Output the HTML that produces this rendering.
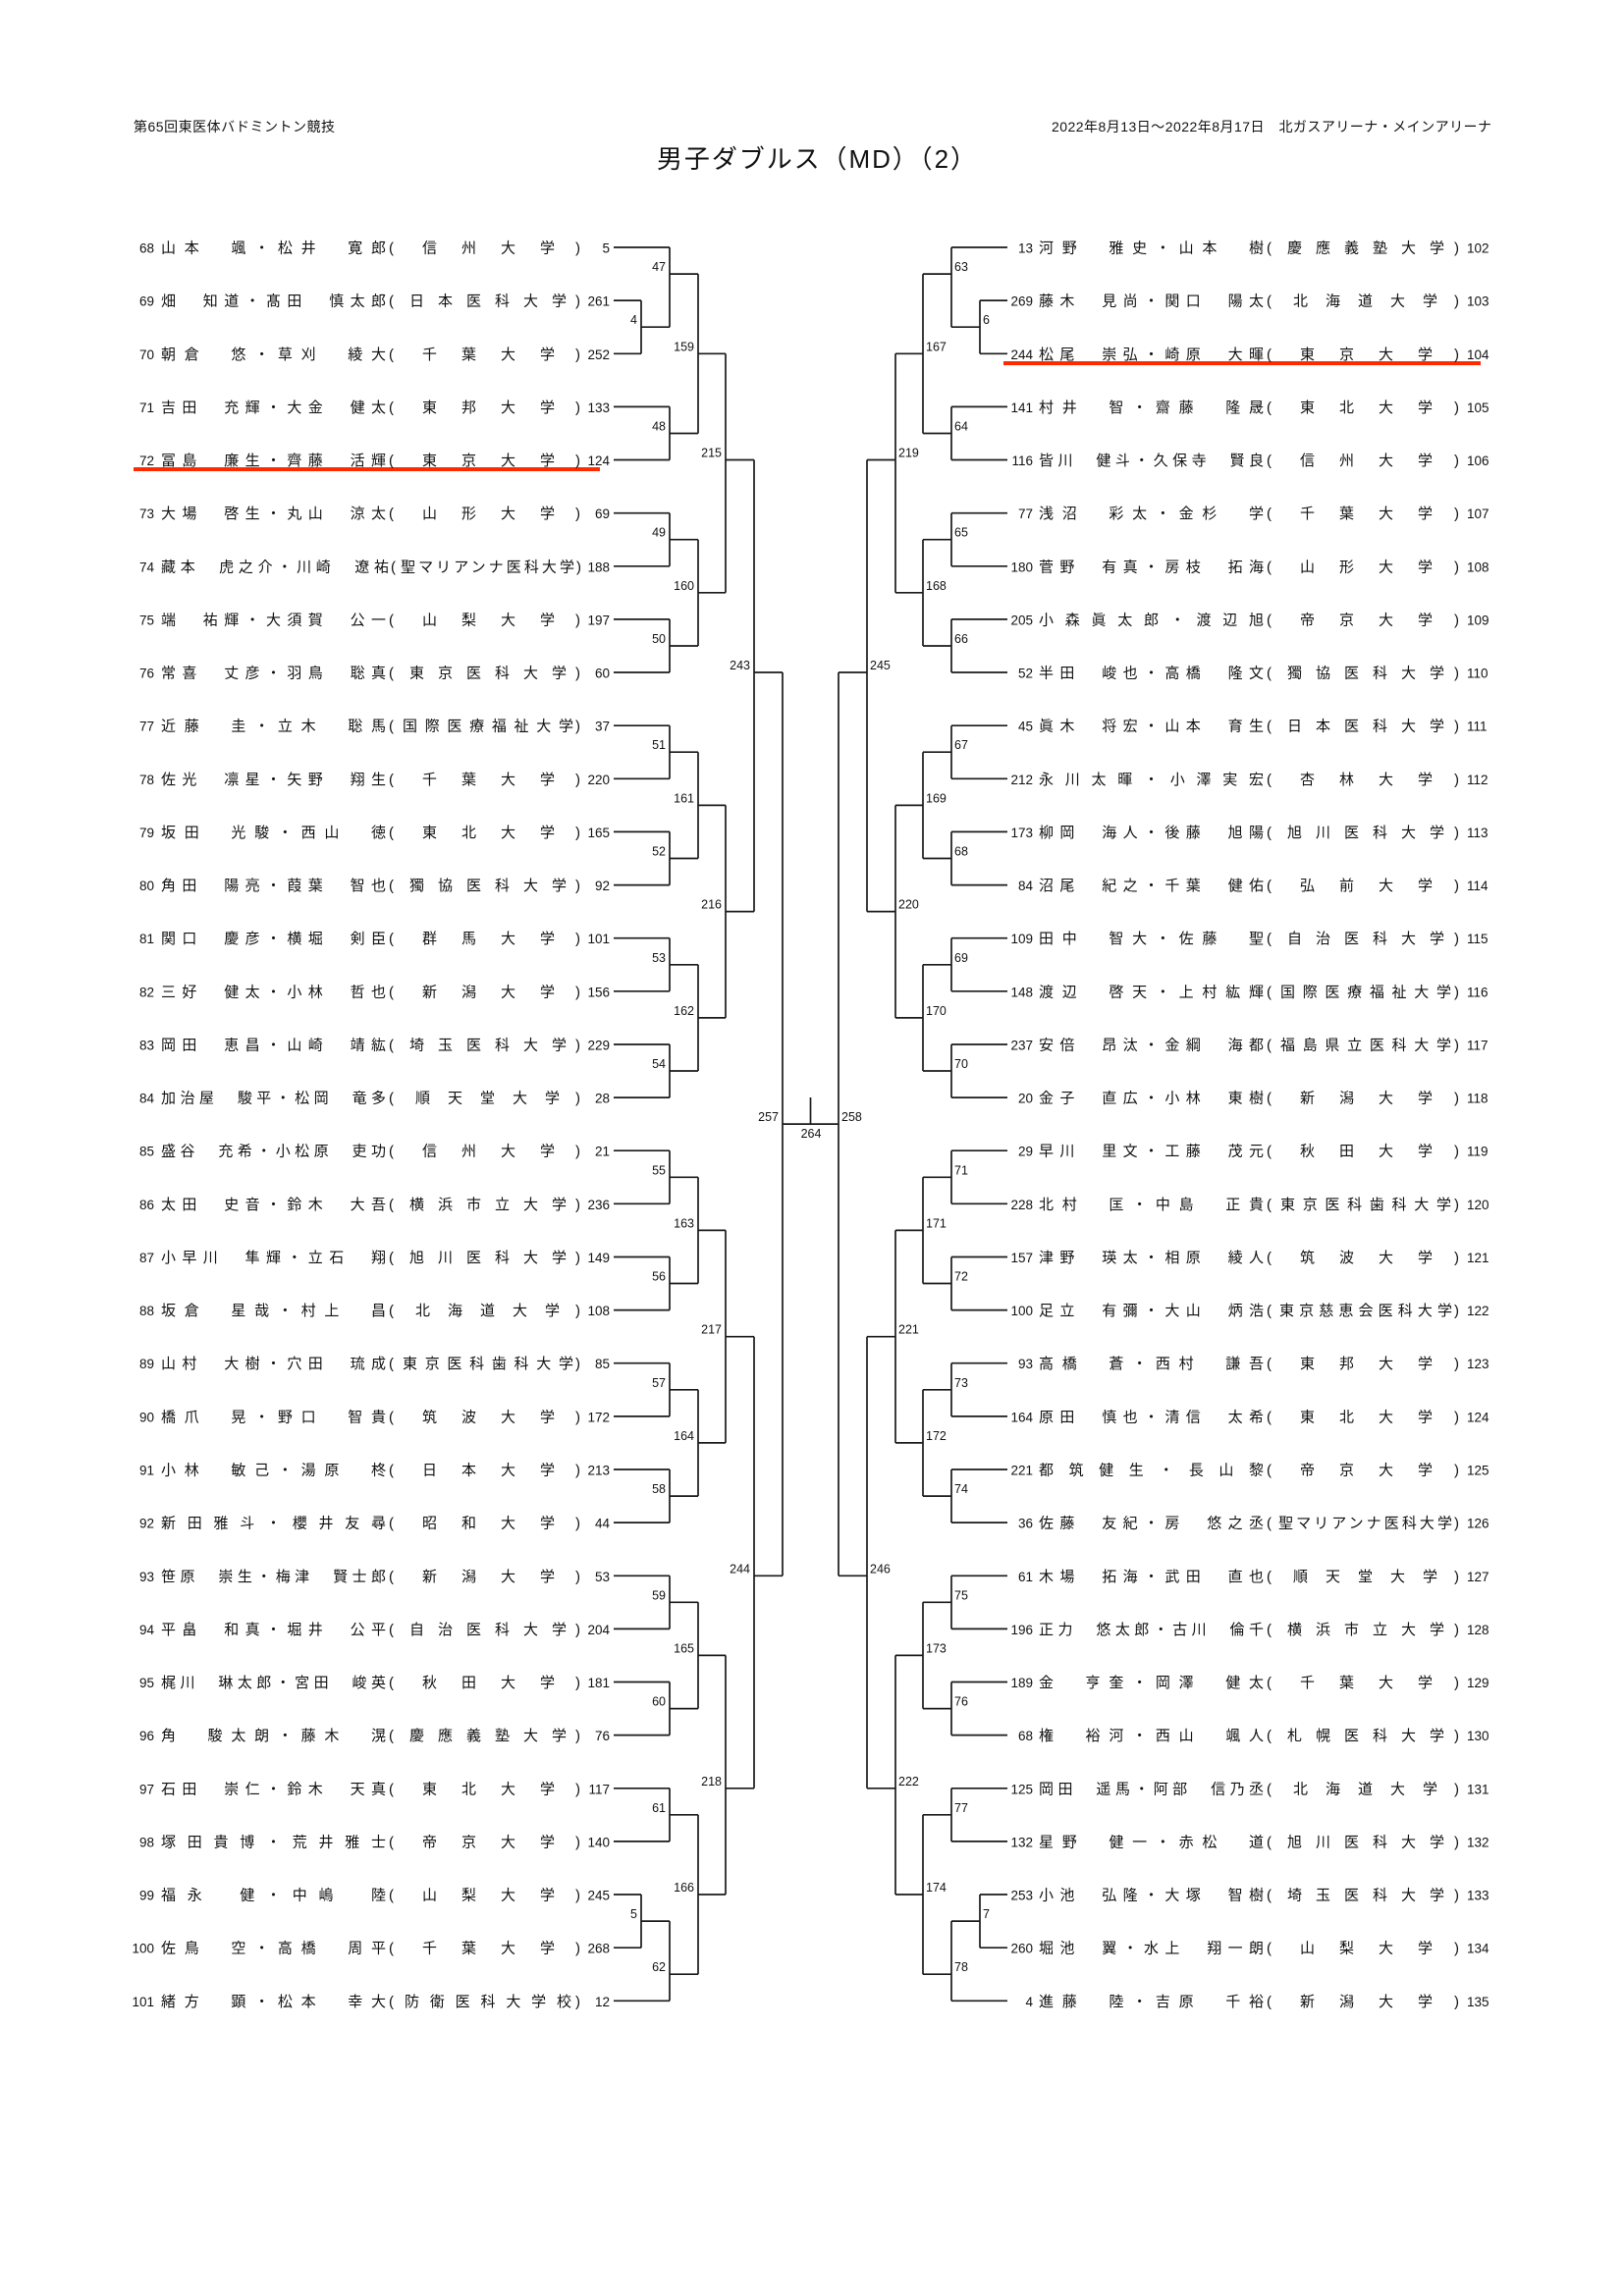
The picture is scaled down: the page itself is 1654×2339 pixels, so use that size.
<!DOCTYPE html>
<html><head><meta charset="utf-8">
<style>
html,body{margin:0;padding:0;background:#fff;}
svg{display:block;}
text{font-family:"Liberation Sans","Noto Sans CJK JP",sans-serif;fill:#111;}
.n{font-size:13.5px;}
.e{text-anchor:end;}
.s{font-size:15px;}
.l{font-size:12.5px;}
.h{font-size:14px;}
.t{font-size:26px;}
</style></head>
<body>
<svg width="1654" height="2339" viewBox="0 0 1654 2339" xmlns="http://www.w3.org/2000/svg">
<rect width="1654" height="2339" fill="#fff"/>
<text class="h" x="136" y="134" textLength="205">第65回東医体バドミントン競技</text>
<text class="h" x="1071" y="134" textLength="448">2022年8月13日～2022年8月17日　北ガスアリーナ・メインアリーナ</text>
<text class="t" x="669" y="171" textLength="325">男子ダブルス（MD）（2）</text>

<rect x="136" y="476" width="475" height="4" fill="#ff2a00"/>
<rect x="1022" y="368" width="486" height="4" fill="#ff2a00"/>

<g id="br" fill="none" stroke="#1a1a1a" stroke-width="1.7">
<path d="M625 252H682 M625 306.1H653 M625 360.3H653 M625 414.4H682 M625 468.5H682 M625 522.7H682 M625 576.8H682 M625 630.9H682 M625 685H682 M625 739.2H682 M625 793.3H682 M625 847.4H682 M625 901.6H682 M625 955.7H682 M625 1009.8H682 M625 1064H682 M625 1118.1H682 M625 1172.2H682 M625 1226.3H682 M625 1280.5H682 M625 1334.6H682 M625 1388.7H682 M625 1442.9H682 M625 1497H682 M625 1551.1H682 M625 1605.3H682 M625 1659.4H682 M625 1713.5H682 M625 1767.6H682 M625 1821.8H682 M625 1875.9H682 M625 1930H653 M625 1984.2H653 M625 2038.3H682
M653 306.1V360.3 M653 333.2H682
M682 252V333.2 M682 279.1H711
M682 414.4V468.5 M682 441.5H711
M682 522.7V576.8 M682 549.7H711
M682 630.9V685 M682 658H711
M682 739.2V793.3 M682 766.2H711
M682 847.4V901.6 M682 874.5H711
M682 955.7V1009.8 M682 982.8H711
M682 1064V1118.1 M682 1091H711
M682 1172.2V1226.3 M682 1199.3H711
M682 1280.5V1334.6 M682 1307.5H711
M682 1388.7V1442.9 M682 1415.8H711
M682 1497V1551.1 M682 1524.1H711
M682 1605.3V1659.4 M682 1632.3H711
M682 1713.5V1767.6 M682 1740.6H711
M682 1821.8V1875.9 M682 1848.8H711
M653 1930V1984.2 M653 1957.1H682
M682 1957.1V2038.3 M682 2011.2H711
M711 279.1V441.5 M711 360.3H739
M711 549.7V658 M711 603.8H739
M711 766.2V874.5 M711 820.4H739
M711 982.8V1091 M711 1036.9H739
M711 1199.3V1307.5 M711 1253.4H739
M711 1415.8V1524.1 M711 1469.9H739
M711 1632.3V1740.6 M711 1686.4H739
M711 1848.8V2011.2 M711 1930H739
M739 360.3V603.8 M739 468.5H768
M739 820.4V1036.9 M739 928.6H768
M739 1253.4V1469.9 M739 1361.7H768
M739 1686.4V1930 M739 1821.8H768
M768 468.5V928.6 M768 685H797
M768 1361.7V1821.8 M768 1605.3H797
M797 685V1605.3 M797 1145.1H826"/>
</g>
<g fill="none" stroke="#1a1a1a" stroke-width="1.7" transform="translate(1651,0) scale(-1,1)">
<path d="M625 252H682 M625 306.1H653 M625 360.3H653 M625 414.4H682 M625 468.5H682 M625 522.7H682 M625 576.8H682 M625 630.9H682 M625 685H682 M625 739.2H682 M625 793.3H682 M625 847.4H682 M625 901.6H682 M625 955.7H682 M625 1009.8H682 M625 1064H682 M625 1118.1H682 M625 1172.2H682 M625 1226.3H682 M625 1280.5H682 M625 1334.6H682 M625 1388.7H682 M625 1442.9H682 M625 1497H682 M625 1551.1H682 M625 1605.3H682 M625 1659.4H682 M625 1713.5H682 M625 1767.6H682 M625 1821.8H682 M625 1875.9H682 M625 1930H653 M625 1984.2H653 M625 2038.3H682
M653 306.1V360.3 M653 333.2H682
M682 252V333.2 M682 279.1H711
M682 414.4V468.5 M682 441.5H711
M682 522.7V576.8 M682 549.7H711
M682 630.9V685 M682 658H711
M682 739.2V793.3 M682 766.2H711
M682 847.4V901.6 M682 874.5H711
M682 955.7V1009.8 M682 982.8H711
M682 1064V1118.1 M682 1091H711
M682 1172.2V1226.3 M682 1199.3H711
M682 1280.5V1334.6 M682 1307.5H711
M682 1388.7V1442.9 M682 1415.8H711
M682 1497V1551.1 M682 1524.1H711
M682 1605.3V1659.4 M682 1632.3H711
M682 1713.5V1767.6 M682 1740.6H711
M682 1821.8V1875.9 M682 1848.8H711
M653 1930V1984.2 M653 1957.1H682
M682 1957.1V2038.3 M682 2011.2H711
M711 279.1V441.5 M711 360.3H739
M711 549.7V658 M711 603.8H739
M711 766.2V874.5 M711 820.4H739
M711 982.8V1091 M711 1036.9H739
M711 1199.3V1307.5 M711 1253.4H739
M711 1415.8V1524.1 M711 1469.9H739
M711 1632.3V1740.6 M711 1686.4H739
M711 1848.8V2011.2 M711 1930H739
M739 360.3V603.8 M739 468.5H768
M739 820.4V1036.9 M739 928.6H768
M739 1253.4V1469.9 M739 1361.7H768
M739 1686.4V1930 M739 1821.8H768
M768 468.5V928.6 M768 685H797
M768 1361.7V1821.8 M768 1605.3H797
M797 685V1605.3 M797 1145.1H826"/>
</g>
<path d="M825.5 1118V1145" stroke="#1a1a1a" stroke-width="1.7"/>

<!-- match labels left -->
<g class="l">
<text class="l e" x="678" y="276">47</text>
<text class="l e" x="678" y="438.5">48</text>
<text class="l e" x="678" y="546.7">49</text>
<text class="l e" x="678" y="655">50</text>
<text class="l e" x="678" y="763.2">51</text>
<text class="l e" x="678" y="871.5">52</text>
<text class="l e" x="678" y="979.8">53</text>
<text class="l e" x="678" y="1088">54</text>
<text class="l e" x="678" y="1196.3">55</text>
<text class="l e" x="678" y="1304.5">56</text>
<text class="l e" x="678" y="1412.8">57</text>
<text class="l e" x="678" y="1521.1">58</text>
<text class="l e" x="678" y="1629.3">59</text>
<text class="l e" x="678" y="1737.6">60</text>
<text class="l e" x="678" y="1845.8">61</text>
<text class="l e" x="678" y="2008.2">62</text>
<text class="l e" x="649" y="330.2">4</text>
<text class="l e" x="649" y="1954.1">5</text>
<text class="l e" x="707" y="357.3">159</text>
<text class="l e" x="707" y="600.8">160</text>
<text class="l e" x="707" y="817.4">161</text>
<text class="l e" x="707" y="1033.9">162</text>
<text class="l e" x="707" y="1250.4">163</text>
<text class="l e" x="707" y="1466.9">164</text>
<text class="l e" x="707" y="1683.4">165</text>
<text class="l e" x="707" y="1927">166</text>
<text class="l e" x="735" y="465.5">215</text>
<text class="l e" x="735" y="925.6">216</text>
<text class="l e" x="735" y="1358.7">217</text>
<text class="l e" x="735" y="1818.8">218</text>
<text class="l e" x="764" y="682">243</text>
<text class="l e" x="764" y="1602.3">244</text>
<text class="l e" x="793" y="1142">257</text>
<text class="l" x="857" y="1142">258</text>
<text class="l" x="826" y="1159" text-anchor="middle">264</text>
<!-- right -->
<text class="l" x="972" y="276">63</text>
<text class="l" x="972" y="438.5">64</text>
<text class="l" x="972" y="546.7">65</text>
<text class="l" x="972" y="655">66</text>
<text class="l" x="972" y="763.2">67</text>
<text class="l" x="972" y="871.5">68</text>
<text class="l" x="972" y="979.8">69</text>
<text class="l" x="972" y="1088">70</text>
<text class="l" x="972" y="1196.3">71</text>
<text class="l" x="972" y="1304.5">72</text>
<text class="l" x="972" y="1412.8">73</text>
<text class="l" x="972" y="1521.1">74</text>
<text class="l" x="972" y="1629.3">75</text>
<text class="l" x="972" y="1737.6">76</text>
<text class="l" x="972" y="1845.8">77</text>
<text class="l" x="972" y="2008.2">78</text>
<text class="l" x="1001" y="330.2">6</text>
<text class="l" x="1001" y="1954.1">7</text>
<text class="l" x="943" y="357.3">167</text>
<text class="l" x="943" y="600.8">168</text>
<text class="l" x="943" y="817.4">169</text>
<text class="l" x="943" y="1033.9">170</text>
<text class="l" x="943" y="1250.4">171</text>
<text class="l" x="943" y="1466.9">172</text>
<text class="l" x="943" y="1683.4">173</text>
<text class="l" x="943" y="1927">174</text>
<text class="l" x="915" y="465.5">219</text>
<text class="l" x="915" y="925.6">220</text>
<text class="l" x="915" y="1358.7">221</text>
<text class="l" x="915" y="1818.8">222</text>
<text class="l" x="886" y="682">245</text>
<text class="l" x="886" y="1602.3">246</text>
</g>

<!-- LEFT ROWS -->
<g transform="translate(0,257.5)"><text class="n e" x="157">68</text><text class="s" x="164" textLength="229">山本　颯・松井　寛郎</text><text class="s" x="396">(</text><text class="s" x="430" textLength="135">信州大学</text><text class="s" x="586">)</text><text class="n e" x="621">5</text></g>
<g transform="translate(0,311.6)"><text class="n e" x="157">69</text><text class="s" x="164" textLength="229">畑　知道・髙田　慎太郎</text><text class="s" x="396">(</text><text class="s" x="417" textLength="160">日本医科大学</text><text class="s" x="586">)</text><text class="n e" x="621">261</text></g>
<g transform="translate(0,365.8)"><text class="n e" x="157">70</text><text class="s" x="164" textLength="229">朝倉　悠・草刈　綾大</text><text class="s" x="396">(</text><text class="s" x="430" textLength="135">千葉大学</text><text class="s" x="586">)</text><text class="n e" x="621">252</text></g>
<g transform="translate(0,419.9)"><text class="n e" x="157">71</text><text class="s" x="164" textLength="229">吉田　充輝・大金　健太</text><text class="s" x="396">(</text><text class="s" x="430" textLength="135">東邦大学</text><text class="s" x="586">)</text><text class="n e" x="621">133</text></g>
<g transform="translate(0,474)"><text class="n e" x="157">72</text><text class="s" x="164" textLength="229">冨島　廉生・齊藤　活輝</text><text class="s" x="396">(</text><text class="s" x="430" textLength="135">東京大学</text><text class="s" x="586">)</text><text class="n e" x="621">124</text></g>
<g transform="translate(0,528.2)"><text class="n e" x="157">73</text><text class="s" x="164" textLength="229">大場　啓生・丸山　涼太</text><text class="s" x="396">(</text><text class="s" x="430" textLength="135">山形大学</text><text class="s" x="586">)</text><text class="n e" x="621">69</text></g>
<g transform="translate(0,582.3)"><text class="n e" x="157">74</text><text class="s" x="164" textLength="232">藏本　虎之介・川崎　遼祐</text><text class="s" x="398">(</text><text class="s" x="408" textLength="177">聖マリアンナ医科大学</text><text class="s" x="587">)</text><text class="n e" x="621">188</text></g>
<g transform="translate(0,636.4)"><text class="n e" x="157">75</text><text class="s" x="164" textLength="229">端　祐輝・大須賀　公一</text><text class="s" x="396">(</text><text class="s" x="430" textLength="135">山梨大学</text><text class="s" x="586">)</text><text class="n e" x="621">197</text></g>
<g transform="translate(0,690.5)"><text class="n e" x="157">76</text><text class="s" x="164" textLength="229">常喜　丈彦・羽鳥　聡真</text><text class="s" x="396">(</text><text class="s" x="417" textLength="160">東京医科大学</text><text class="s" x="586">)</text><text class="n e" x="621">60</text></g>
<g transform="translate(0,744.7)"><text class="n e" x="157">77</text><text class="s" x="164" textLength="229">近藤　圭・立木　聡馬</text><text class="s" x="396">(</text><text class="s" x="410" textLength="174">国際医療福祉大学</text><text class="s" x="586">)</text><text class="n e" x="621">37</text></g>
<g transform="translate(0,798.8)"><text class="n e" x="157">78</text><text class="s" x="164" textLength="229">佐光　凛星・矢野　翔生</text><text class="s" x="396">(</text><text class="s" x="430" textLength="135">千葉大学</text><text class="s" x="586">)</text><text class="n e" x="621">220</text></g>
<g transform="translate(0,852.9)"><text class="n e" x="157">79</text><text class="s" x="164" textLength="229">坂田　光駿・西山　徳</text><text class="s" x="396">(</text><text class="s" x="430" textLength="135">東北大学</text><text class="s" x="586">)</text><text class="n e" x="621">165</text></g>
<g transform="translate(0,907.1)"><text class="n e" x="157">80</text><text class="s" x="164" textLength="229">角田　陽亮・葭葉　智也</text><text class="s" x="396">(</text><text class="s" x="417" textLength="160">獨協医科大学</text><text class="s" x="586">)</text><text class="n e" x="621">92</text></g>
<g transform="translate(0,961.2)"><text class="n e" x="157">81</text><text class="s" x="164" textLength="229">関口　慶彦・横堀　剣臣</text><text class="s" x="396">(</text><text class="s" x="430" textLength="135">群馬大学</text><text class="s" x="586">)</text><text class="n e" x="621">101</text></g>
<g transform="translate(0,1015.3)"><text class="n e" x="157">82</text><text class="s" x="164" textLength="229">三好　健太・小林　哲也</text><text class="s" x="396">(</text><text class="s" x="430" textLength="135">新潟大学</text><text class="s" x="586">)</text><text class="n e" x="621">156</text></g>
<g transform="translate(0,1069.5)"><text class="n e" x="157">83</text><text class="s" x="164" textLength="229">岡田　恵昌・山崎　靖紘</text><text class="s" x="396">(</text><text class="s" x="417" textLength="160">埼玉医科大学</text><text class="s" x="586">)</text><text class="n e" x="621">229</text></g>
<g transform="translate(0,1123.6)"><text class="n e" x="157">84</text><text class="s" x="164" textLength="229">加治屋　駿平・松岡　竜多</text><text class="s" x="396">(</text><text class="s" x="423" textLength="147">順天堂大学</text><text class="s" x="586">)</text><text class="n e" x="621">28</text></g>
<g transform="translate(0,1177.7)"><text class="n e" x="157">85</text><text class="s" x="164" textLength="229">盛谷　充希・小松原　吏功</text><text class="s" x="396">(</text><text class="s" x="430" textLength="135">信州大学</text><text class="s" x="586">)</text><text class="n e" x="621">21</text></g>
<g transform="translate(0,1231.8)"><text class="n e" x="157">86</text><text class="s" x="164" textLength="229">太田　史音・鈴木　大吾</text><text class="s" x="396">(</text><text class="s" x="417" textLength="160">横浜市立大学</text><text class="s" x="586">)</text><text class="n e" x="621">236</text></g>
<g transform="translate(0,1286)"><text class="n e" x="157">87</text><text class="s" x="164" textLength="229">小早川　隼輝・立石　翔</text><text class="s" x="396">(</text><text class="s" x="417" textLength="160">旭川医科大学</text><text class="s" x="586">)</text><text class="n e" x="621">149</text></g>
<g transform="translate(0,1340.1)"><text class="n e" x="157">88</text><text class="s" x="164" textLength="229">坂倉　星哉・村上　昌</text><text class="s" x="396">(</text><text class="s" x="423" textLength="147">北海道大学</text><text class="s" x="586">)</text><text class="n e" x="621">108</text></g>
<g transform="translate(0,1394.2)"><text class="n e" x="157">89</text><text class="s" x="164" textLength="229">山村　大樹・穴田　琉成</text><text class="s" x="396">(</text><text class="s" x="410" textLength="174">東京医科歯科大学</text><text class="s" x="586">)</text><text class="n e" x="621">85</text></g>
<g transform="translate(0,1448.4)"><text class="n e" x="157">90</text><text class="s" x="164" textLength="229">橋爪　晃・野口　智貴</text><text class="s" x="396">(</text><text class="s" x="430" textLength="135">筑波大学</text><text class="s" x="586">)</text><text class="n e" x="621">172</text></g>
<g transform="translate(0,1502.5)"><text class="n e" x="157">91</text><text class="s" x="164" textLength="229">小林　敏己・湯原　柊</text><text class="s" x="396">(</text><text class="s" x="430" textLength="135">日本大学</text><text class="s" x="586">)</text><text class="n e" x="621">213</text></g>
<g transform="translate(0,1556.6)"><text class="n e" x="157">92</text><text class="s" x="164" textLength="229">新田雅斗・櫻井友尋</text><text class="s" x="396">(</text><text class="s" x="430" textLength="135">昭和大学</text><text class="s" x="586">)</text><text class="n e" x="621">44</text></g>
<g transform="translate(0,1610.8)"><text class="n e" x="157">93</text><text class="s" x="164" textLength="229">笹原　崇生・梅津　賢士郎</text><text class="s" x="396">(</text><text class="s" x="430" textLength="135">新潟大学</text><text class="s" x="586">)</text><text class="n e" x="621">53</text></g>
<g transform="translate(0,1664.9)"><text class="n e" x="157">94</text><text class="s" x="164" textLength="229">平畠　和真・堀井　公平</text><text class="s" x="396">(</text><text class="s" x="417" textLength="160">自治医科大学</text><text class="s" x="586">)</text><text class="n e" x="621">204</text></g>
<g transform="translate(0,1719)"><text class="n e" x="157">95</text><text class="s" x="164" textLength="229">梶川　琳太郎・宮田　峻英</text><text class="s" x="396">(</text><text class="s" x="430" textLength="135">秋田大学</text><text class="s" x="586">)</text><text class="n e" x="621">181</text></g>
<g transform="translate(0,1773.1)"><text class="n e" x="157">96</text><text class="s" x="164" textLength="229">角　駿太朗・藤木　滉</text><text class="s" x="396">(</text><text class="s" x="417" textLength="160">慶應義塾大学</text><text class="s" x="586">)</text><text class="n e" x="621">76</text></g>
<g transform="translate(0,1827.3)"><text class="n e" x="157">97</text><text class="s" x="164" textLength="229">石田　崇仁・鈴木　天真</text><text class="s" x="396">(</text><text class="s" x="430" textLength="135">東北大学</text><text class="s" x="586">)</text><text class="n e" x="621">117</text></g>
<g transform="translate(0,1881.4)"><text class="n e" x="157">98</text><text class="s" x="164" textLength="229">塚田貴博・荒井雅士</text><text class="s" x="396">(</text><text class="s" x="430" textLength="135">帝京大学</text><text class="s" x="586">)</text><text class="n e" x="621">140</text></g>
<g transform="translate(0,1935.5)"><text class="n e" x="157">99</text><text class="s" x="164" textLength="229">福永　健・中嶋　陸</text><text class="s" x="396">(</text><text class="s" x="430" textLength="135">山梨大学</text><text class="s" x="586">)</text><text class="n e" x="621">245</text></g>
<g transform="translate(0,1989.7)"><text class="n e" x="157">100</text><text class="s" x="164" textLength="229">佐鳥　空・高橋　周平</text><text class="s" x="396">(</text><text class="s" x="430" textLength="135">千葉大学</text><text class="s" x="586">)</text><text class="n e" x="621">268</text></g>
<g transform="translate(0,2043.8)"><text class="n e" x="157">101</text><text class="s" x="164" textLength="229">緒方　顕・松本　幸大</text><text class="s" x="396">(</text><text class="s" x="412" textLength="170">防衛医科大学校</text><text class="s" x="586">)</text><text class="n e" x="621">12</text></g>

<!-- RIGHT ROWS -->
<g transform="translate(0,257.5)"><text class="n e" x="1052">13</text><text class="s" x="1058" textLength="229">河野　雅史・山本　樹</text><text class="s" x="1290">(</text><text class="s" x="1311" textLength="160">慶應義塾大学</text><text class="s" x="1481">)</text><text class="n" x="1494">102</text></g>
<g transform="translate(0,311.6)"><text class="n e" x="1052">269</text><text class="s" x="1058" textLength="229">藤木　見尚・関口　陽太</text><text class="s" x="1290">(</text><text class="s" x="1317" textLength="147">北海道大学</text><text class="s" x="1481">)</text><text class="n" x="1494">103</text></g>
<g transform="translate(0,365.8)"><text class="n e" x="1052">244</text><text class="s" x="1058" textLength="229">松尾　崇弘・崎原　大暉</text><text class="s" x="1290">(</text><text class="s" x="1324" textLength="135">東京大学</text><text class="s" x="1481">)</text><text class="n" x="1494">104</text></g>
<g transform="translate(0,419.9)"><text class="n e" x="1052">141</text><text class="s" x="1058" textLength="229">村井　智・齋藤　隆晟</text><text class="s" x="1290">(</text><text class="s" x="1324" textLength="135">東北大学</text><text class="s" x="1481">)</text><text class="n" x="1494">105</text></g>
<g transform="translate(0,474)"><text class="n e" x="1052">116</text><text class="s" x="1058" textLength="229">皆川　健斗・久保寺　賢良</text><text class="s" x="1290">(</text><text class="s" x="1324" textLength="135">信州大学</text><text class="s" x="1481">)</text><text class="n" x="1494">106</text></g>
<g transform="translate(0,528.2)"><text class="n e" x="1052">77</text><text class="s" x="1058" textLength="229">浅沼　彩太・金杉　学</text><text class="s" x="1290">(</text><text class="s" x="1324" textLength="135">千葉大学</text><text class="s" x="1481">)</text><text class="n" x="1494">107</text></g>
<g transform="translate(0,582.3)"><text class="n e" x="1052">180</text><text class="s" x="1058" textLength="229">菅野　有真・房枝　拓海</text><text class="s" x="1290">(</text><text class="s" x="1324" textLength="135">山形大学</text><text class="s" x="1481">)</text><text class="n" x="1494">108</text></g>
<g transform="translate(0,636.4)"><text class="n e" x="1052">205</text><text class="s" x="1058" textLength="229">小森眞太郎・渡辺旭</text><text class="s" x="1290">(</text><text class="s" x="1324" textLength="135">帝京大学</text><text class="s" x="1481">)</text><text class="n" x="1494">109</text></g>
<g transform="translate(0,690.5)"><text class="n e" x="1052">52</text><text class="s" x="1058" textLength="229">半田　峻也・高橋　隆文</text><text class="s" x="1290">(</text><text class="s" x="1311" textLength="160">獨協医科大学</text><text class="s" x="1481">)</text><text class="n" x="1494">110</text></g>
<g transform="translate(0,744.7)"><text class="n e" x="1052">45</text><text class="s" x="1058" textLength="229">眞木　将宏・山本　育生</text><text class="s" x="1290">(</text><text class="s" x="1311" textLength="160">日本医科大学</text><text class="s" x="1481">)</text><text class="n" x="1494">111</text></g>
<g transform="translate(0,798.8)"><text class="n e" x="1052">212</text><text class="s" x="1058" textLength="229">永川太暉・小澤実宏</text><text class="s" x="1290">(</text><text class="s" x="1324" textLength="135">杏林大学</text><text class="s" x="1481">)</text><text class="n" x="1494">112</text></g>
<g transform="translate(0,852.9)"><text class="n e" x="1052">173</text><text class="s" x="1058" textLength="229">柳岡　海人・後藤　旭陽</text><text class="s" x="1290">(</text><text class="s" x="1311" textLength="160">旭川医科大学</text><text class="s" x="1481">)</text><text class="n" x="1494">113</text></g>
<g transform="translate(0,907.1)"><text class="n e" x="1052">84</text><text class="s" x="1058" textLength="229">沼尾　紀之・千葉　健佑</text><text class="s" x="1290">(</text><text class="s" x="1324" textLength="135">弘前大学</text><text class="s" x="1481">)</text><text class="n" x="1494">114</text></g>
<g transform="translate(0,961.2)"><text class="n e" x="1052">109</text><text class="s" x="1058" textLength="229">田中　智大・佐藤　聖</text><text class="s" x="1290">(</text><text class="s" x="1311" textLength="160">自治医科大学</text><text class="s" x="1481">)</text><text class="n" x="1494">115</text></g>
<g transform="translate(0,1015.3)"><text class="n e" x="1052">148</text><text class="s" x="1058" textLength="229">渡辺　啓天・上村紘輝</text><text class="s" x="1290">(</text><text class="s" x="1304" textLength="174">国際医療福祉大学</text><text class="s" x="1481">)</text><text class="n" x="1494">116</text></g>
<g transform="translate(0,1069.5)"><text class="n e" x="1052">237</text><text class="s" x="1058" textLength="229">安倍　昂汰・金綱　海都</text><text class="s" x="1290">(</text><text class="s" x="1304" textLength="174">福島県立医科大学</text><text class="s" x="1481">)</text><text class="n" x="1494">117</text></g>
<g transform="translate(0,1123.6)"><text class="n e" x="1052">20</text><text class="s" x="1058" textLength="229">金子　直広・小林　東樹</text><text class="s" x="1290">(</text><text class="s" x="1324" textLength="135">新潟大学</text><text class="s" x="1481">)</text><text class="n" x="1494">118</text></g>
<g transform="translate(0,1177.7)"><text class="n e" x="1052">29</text><text class="s" x="1058" textLength="229">早川　里文・工藤　茂元</text><text class="s" x="1290">(</text><text class="s" x="1324" textLength="135">秋田大学</text><text class="s" x="1481">)</text><text class="n" x="1494">119</text></g>
<g transform="translate(0,1231.8)"><text class="n e" x="1052">228</text><text class="s" x="1058" textLength="229">北村　匡・中島　正貴</text><text class="s" x="1290">(</text><text class="s" x="1304" textLength="174">東京医科歯科大学</text><text class="s" x="1481">)</text><text class="n" x="1494">120</text></g>
<g transform="translate(0,1286)"><text class="n e" x="1052">157</text><text class="s" x="1058" textLength="229">津野　瑛太・相原　綾人</text><text class="s" x="1290">(</text><text class="s" x="1324" textLength="135">筑波大学</text><text class="s" x="1481">)</text><text class="n" x="1494">121</text></g>
<g transform="translate(0,1340.1)"><text class="n e" x="1052">100</text><text class="s" x="1058" textLength="229">足立　有彌・大山　炳浩</text><text class="s" x="1290">(</text><text class="s" x="1303" textLength="176">東京慈恵会医科大学</text><text class="s" x="1481">)</text><text class="n" x="1494">122</text></g>
<g transform="translate(0,1394.2)"><text class="n e" x="1052">93</text><text class="s" x="1058" textLength="229">高橋　蒼・西村　謙吾</text><text class="s" x="1290">(</text><text class="s" x="1324" textLength="135">東邦大学</text><text class="s" x="1481">)</text><text class="n" x="1494">123</text></g>
<g transform="translate(0,1448.4)"><text class="n e" x="1052">164</text><text class="s" x="1058" textLength="229">原田　慎也・清信　太希</text><text class="s" x="1290">(</text><text class="s" x="1324" textLength="135">東北大学</text><text class="s" x="1481">)</text><text class="n" x="1494">124</text></g>
<g transform="translate(0,1502.5)"><text class="n e" x="1052">221</text><text class="s" x="1058" textLength="229">都筑健生・長山黎</text><text class="s" x="1290">(</text><text class="s" x="1324" textLength="135">帝京大学</text><text class="s" x="1481">)</text><text class="n" x="1494">125</text></g>
<g transform="translate(0,1556.6)"><text class="n e" x="1052">36</text><text class="s" x="1058" textLength="229">佐藤　友紀・房　悠之丞</text><text class="s" x="1290">(</text><text class="s" x="1302" textLength="177">聖マリアンナ医科大学</text><text class="s" x="1481">)</text><text class="n" x="1494">126</text></g>
<g transform="translate(0,1610.8)"><text class="n e" x="1052">61</text><text class="s" x="1058" textLength="229">木場　拓海・武田　直也</text><text class="s" x="1290">(</text><text class="s" x="1317" textLength="147">順天堂大学</text><text class="s" x="1481">)</text><text class="n" x="1494">127</text></g>
<g transform="translate(0,1664.9)"><text class="n e" x="1052">196</text><text class="s" x="1058" textLength="229">正力　悠太郎・古川　倫千</text><text class="s" x="1290">(</text><text class="s" x="1311" textLength="160">横浜市立大学</text><text class="s" x="1481">)</text><text class="n" x="1494">128</text></g>
<g transform="translate(0,1719)"><text class="n e" x="1052">189</text><text class="s" x="1058" textLength="229">金　亨奎・岡澤　健太</text><text class="s" x="1290">(</text><text class="s" x="1324" textLength="135">千葉大学</text><text class="s" x="1481">)</text><text class="n" x="1494">129</text></g>
<g transform="translate(0,1773.1)"><text class="n e" x="1052">68</text><text class="s" x="1058" textLength="229">権　裕河・西山　颯人</text><text class="s" x="1290">(</text><text class="s" x="1311" textLength="160">札幌医科大学</text><text class="s" x="1481">)</text><text class="n" x="1494">130</text></g>
<g transform="translate(0,1827.3)"><text class="n e" x="1052">125</text><text class="s" x="1058" textLength="229">岡田　遥馬・阿部　信乃丞</text><text class="s" x="1290">(</text><text class="s" x="1317" textLength="147">北海道大学</text><text class="s" x="1481">)</text><text class="n" x="1494">131</text></g>
<g transform="translate(0,1881.4)"><text class="n e" x="1052">132</text><text class="s" x="1058" textLength="229">星野　健一・赤松　道</text><text class="s" x="1290">(</text><text class="s" x="1311" textLength="160">旭川医科大学</text><text class="s" x="1481">)</text><text class="n" x="1494">132</text></g>
<g transform="translate(0,1935.5)"><text class="n e" x="1052">253</text><text class="s" x="1058" textLength="229">小池　弘隆・大塚　智樹</text><text class="s" x="1290">(</text><text class="s" x="1311" textLength="160">埼玉医科大学</text><text class="s" x="1481">)</text><text class="n" x="1494">133</text></g>
<g transform="translate(0,1989.7)"><text class="n e" x="1052">260</text><text class="s" x="1058" textLength="229">堀池　翼・水上　翔一朗</text><text class="s" x="1290">(</text><text class="s" x="1324" textLength="135">山梨大学</text><text class="s" x="1481">)</text><text class="n" x="1494">134</text></g>
<g transform="translate(0,2043.8)"><text class="n e" x="1052">4</text><text class="s" x="1058" textLength="229">進藤　陸・吉原　千裕</text><text class="s" x="1290">(</text><text class="s" x="1324" textLength="135">新潟大学</text><text class="s" x="1481">)</text><text class="n" x="1494">135</text></g>
</svg>
</body></html>
